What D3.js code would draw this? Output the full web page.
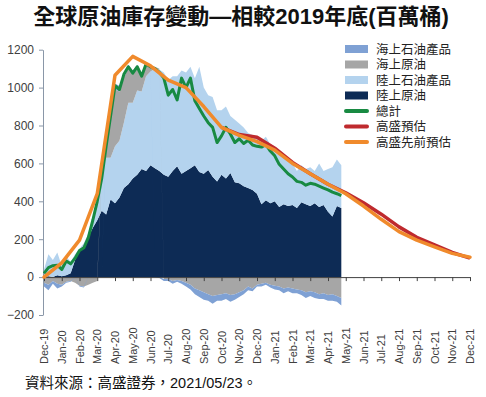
<!DOCTYPE html>
<html>
<head>
<meta charset="utf-8">
<script src="https://cdn.jsdelivr.net/npm/d3@7"></script>
<style>
  body { margin: 0; background: #fff; }
  svg { display: block; }
  .tick text { font-family: "Liberation Sans", Arial, sans-serif; fill: #404040; }
</style>
</head>
<body>
<div id="chart"></div>
<script>
// chart size, same as the window
const svgWidth = 486
const svgHeight = 397

// month labels on the x axis (Dec-19 .. Dec-21)
const monthLabels = ["Dec-19", "Jan-20", "Feb-20", "Mar-20", "Apr-20", "May-20", "Jun-20", "Jul-20",
  "Aug-20", "Sep-20", "Oct-20", "Nov-20", "Dec-20", "Jan-21", "Feb-21", "Mar-21", "Apr-21",
  "May-21", "Jun-21", "Jul-21", "Aug-21", "Sep-21", "Oct-21", "Nov-21", "Dec-21"]

const yTicks = [-200, 0, 200, 400, 600, 800, 1000, 1200]

// weekly readings (one value every quarter month from Dec-19), million barrels
const onshoreCrude = [0, 5, 0, 10, 5, 10, 20, 90, 140, 170, 210, 260, 300, 350, 330, 410,
  390, 420, 470, 490, 520, 540, 570, 560, 590, 575, 560, 540, 530, 560, 585, 545,
  560, 575, 590, 555, 545, 565, 530, 505, 540, 520, 550, 500, 495, 480, 470, 460,
  440, 385, 405, 390, 400, 370, 385, 375, 380, 365, 395, 385, 375, 390, 370, 380,
  345, 320, 375, 365]
const onshoreProducts = [40, 115, 90, 120, 55, 100, 60, 30, 10, 10, 20, 50, 120, 190, 300, 220,
  300, 300, 345, 430, 400, 445, 410, 500, 495, 525, 535, 540, 510, 500, 475, 545,
  520, 535, 460, 555, 455, 395, 420, 375, 340, 380, 300, 330, 315, 310, 290, 290,
  300, 335, 335, 310, 290, 280, 255, 235, 220, 195, 195, 185, 205, 170, 230, 180,
  225, 260, 245, 225]
const offshoreCrude = [-30, -40, -20, -35, -40, -25, -20, -30, -45, -50, -40, -30, -20, 20, 120, 250,
  300, 260, 240, 180, 150, 120, 90, 60, 30, 10, 5, -10, -10, -20, -15, -20,
  -30, -40, -60, -70, -80, -90, -100, -95, -90, -85, -95, -90, -80, -70, -50, -60,
  -40, -35, -30, -40, -45, -50, -60, -55, -60, -65, -70, -80, -75, -80, -90, -85,
  -95, -90, -100, -110]
const offshoreProducts = [-20, -30, -15, -25, -10, -5, -5, 0, -5, -5, 0, 0, 0, 0, 10, 20,
  30, 30, 25, 20, 20, 15, 10, 10, 5, 0, -5, -10, -10, -15, -10, -15,
  -20, -25, -30, -35, -40, -35, -40, -30, -35, -30, -35, -30, -25, -20, -20, -15,
  -10, -15, -10, -15, -20, -20, -25, -20, -25, -20, -25, -30, -25, -30, -25, -30,
  -30, -35, -30, -40]
const total = [20, 50, 60, 63, 40, 85, 70, 100, 140, 155, 210, 300, 400, 520, 690, 850,
  1010, 990, 1070, 1110, 1076, 1110, 1060, 1125, 1110, 1100, 1080, 1050, 960, 990, 935, 1050,
  1000, 1050, 930, 890, 850, 815, 790, 710, 745, 790, 755, 710, 730, 705, 722, 697,
  690, 686, 700, 665, 640, 595, 570, 545, 528, 505, 500, 485, 495, 490, 480, 470,
  460, 448, 440, 430]

// monthly Goldman estimates
const prevEstimate = [0, 75, 195, 440, 1065, 1165, 1115, 1040, 1000, 900, 790, 748, 715,
  670, 600, 545, 490, 440, 375, 305, 240, 195, 160, 125, 105]
const newEstimateStart = 10   // red line starts at Oct-20
const newEstimate = [790, 752, 738, 680, 605, 545, 490, 445, 392, 332, 265, 210, 170, 130, 100]

const weekStep = 0.25

const colors = {
  onshoreCrude: "#0d2b55",
  onshoreProducts: "#b4d3ee",
  offshoreCrude: "#a6a6a6",
  offshoreProducts: "#7fa1d4",
  total: "#188a42",
  newEstimate: "#bf2a2e",
  prevEstimate: "#f08a2c"
}

// latin font first, CJK glyphs fall back to Noto TC
const cjkFont = "'Liberation Sans', 'Noto Sans CJK TC', sans-serif"

let svg = d3.select("#chart")
  .append("svg")
  .attr("width", svgWidth)
  .attr("height", svgHeight)

// scales
let x = d3.scaleLinear().domain([0, 24]).range([44, 470])
let y = d3.scaleLinear().domain([-200, 1200]).range([315, 49.7])

// build rows for the stack
let rows = onshoreCrude.map((v, i) => ({
  m: i * weekStep,
  onshoreCrude: v,
  onshoreProducts: onshoreProducts[i],
  offshoreCrude: offshoreCrude[i],
  offshoreProducts: offshoreProducts[i]
}))

let keys = ["onshoreCrude", "onshoreProducts", "offshoreCrude", "offshoreProducts"]
let series = d3.stack().keys(keys).offset(d3.stackOffsetDiverging)(rows)

let area = d3.area()
  .x(d => x(d.data.m))
  .y0(d => y(d[0]))
  .y1(d => y(d[1]))

svg.append("g")
  .selectAll("path")
  .data(series)
  .enter()
  .append("path")
  .attr("d", area)
  .attr("fill", d => colors[d.key])

// y axis
let yAxis = svg.append("g")
  .attr("transform", `translate(${x(0) - 1}, 0)`)
  .call(d3.axisLeft(y).tickValues(yTicks).tickFormat(d3.format("d"))
    .tickSize(4).tickSizeOuter(0).tickPadding(5))
yAxis.select(".domain").attr("stroke", "#8a97a8")
yAxis.selectAll(".tick line").attr("stroke", "#8a97a8")
yAxis.selectAll("text").style("font-size", "12px")

// x axis at zero
let xAxis = svg.append("g")
  .attr("transform", `translate(0, ${y(0)})`)
  .call(d3.axisBottom(x).tickValues(d3.range(25)).tickSize(4).tickSizeOuter(0).tickFormat(""))
xAxis.select(".domain").attr("stroke", "#404040")
xAxis.selectAll(".tick line").attr("stroke", "#404040")

// month labels, rotated, under the plot
svg.append("g")
  .selectAll("text")
  .data(monthLabels)
  .enter()
  .append("text")
  .attr("transform", (d, i) => `translate(${x(i) + 4}, 364) rotate(-90)`)
  .attr("text-anchor", "start")
  .style("font", "11px 'Liberation Sans', Arial, sans-serif")
  .style("fill", "#404040")
  .text(d => d)

// lines
let totalLine = d3.line().x((d, i) => x(i * weekStep)).y(d => y(d))
svg.append("path")
  .datum(total)
  .attr("d", totalLine)
  .attr("fill", "none")
  .attr("stroke", colors.total)
  .attr("stroke-width", 3)
  .attr("stroke-linejoin", "round")

let redLine = d3.line().x((d, i) => x(i + newEstimateStart)).y(d => y(d))
svg.append("path")
  .datum(newEstimate)
  .attr("d", redLine)
  .attr("fill", "none")
  .attr("stroke", colors.newEstimate)
  .attr("stroke-width", 3.5)
  .attr("stroke-linejoin", "round")

let orangeLine = d3.line().x((d, i) => x(i)).y(d => y(d))
svg.append("path")
  .datum(prevEstimate)
  .attr("d", orangeLine)
  .attr("fill", "none")
  .attr("stroke", colors.prevEstimate)
  .attr("stroke-width", 3.5)
  .attr("stroke-linejoin", "round")
  .attr("stroke-linecap", "round")

// legend
const legendItems = [
  { name: "海上石油產品", key: "offshoreProducts", type: "box" },
  { name: "海上原油", key: "offshoreCrude", type: "box" },
  { name: "陸上石油產品", key: "onshoreProducts", type: "box" },
  { name: "陸上原油", key: "onshoreCrude", type: "box" },
  { name: "總計", key: "total", type: "line" },
  { name: "高盛預估", key: "newEstimate", type: "line" },
  { name: "高盛先前預估", key: "prevEstimate", type: "line" }
]

let legend = svg.append("g").attr("transform", "translate(345, 49)")
let item = legend.selectAll("g")
  .data(legendItems)
  .enter()
  .append("g")
  .attr("transform", (d, i) => `translate(0, ${i * 15.5})`)

item.filter(d => d.type === "box")
  .append("rect")
  .attr("x", 0).attr("y", -4).attr("width", 23).attr("height", 8)
  .attr("fill", d => colors[d.key])
item.filter(d => d.type === "line")
  .append("line")
  .attr("x1", 1).attr("x2", 22).attr("y1", 0).attr("y2", 0)
  .attr("stroke", d => colors[d.key])
  .attr("stroke-width", 4)
  .attr("stroke-linecap", "round")
item.append("text")
  .attr("x", 31)
  .attr("dy", "0.38em")
  .style("font", `12.5px ${cjkFont}`)
  .style("fill", "#222")
  .text(d => d.name)

// title
svg.append("text")
  .attr("x", 241)
  .attr("y", 24)
  .attr("text-anchor", "middle")
  .style("font", `bold 22px ${cjkFont}`)
  .style("fill", "#111")
  .text("全球原油庫存變動—相較2019年底(百萬桶)")

// source note
svg.append("text")
  .attr("x", 25)
  .attr("y", 388)
  .style("font", `14.5px ${cjkFont}`)
  .style("fill", "#111")
  .text("資料來源：高盛證券，2021/05/23。")
</script>
</body>
</html>
